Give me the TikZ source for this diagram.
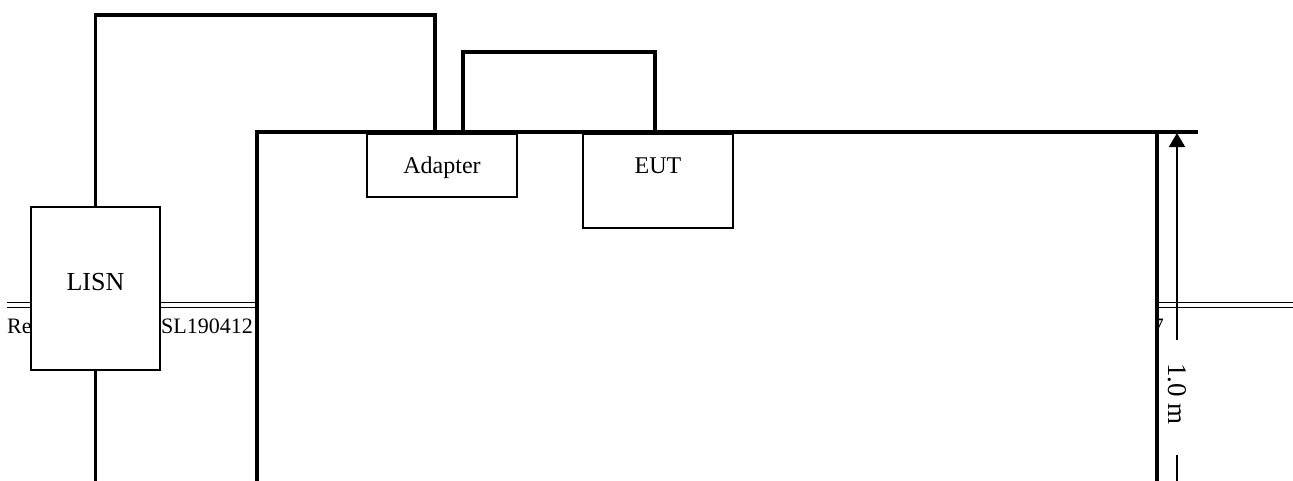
\documentclass[tikz,border=0pt]{standalone}
\usepackage{fontspec}
\setmainfont{Liberation Serif}
\usetikzlibrary{arrows.meta}
\tikzset{
  wire/.style={line width=3.6pt},
  boxstyle/.style={draw, line width=1.8pt, fill=white, minimum width=150pt, inner sep=0pt},
  hdr/.style={line width=1.7pt},
  lbl/.style={font=\fontsize{24}{28}\selectfont, inner sep=0pt},
  hdrtext/.style={font=\fontsize{22}{26}\selectfont, inner sep=0pt},
}
\begin{document}
\begin{tikzpicture}[x=1pt,y=-1pt]
\useasboundingbox (0,0) rectangle (1293,480);
\clip (0,0) rectangle (1293,480);
\fill[white] (0,0) rectangle (1293,480);
% header remnants
\draw[hdr] (7,302.5) -- (1293,302.5);
\draw[hdr] (7,307.5) -- (1293,307.5);
\node[hdrtext, anchor=base west] (hre) at (7,333) {Re};
\node[hdrtext, anchor=base east] (hnum) at (253,333) {SL190412};
\node[hdrtext, anchor=base east] (hpg) at (1164,333) {7};
% table
\fill[white] (257,132) rectangle (1157,490);
\draw[line width=3.2pt] (257,490) -- (257,132) -- (1198,132);
\draw[line width=3.2pt] (1157,132) -- (1157,490);
% boxes
\node[boxstyle, minimum height=63pt] (adapter) at (442,165.5) {};
\node[lbl] (adaptertext) at (442,168) {Adapter};
\node[boxstyle, minimum height=94pt] (eut) at (658,181) {};
\node[lbl] (euttext) at (658,166) {EUT};
\node[boxstyle, minimum width=129pt, minimum height=163pt] (lisn) at (95.5,288.5) {};
\node[lbl, font=\fontsize{26}{30}\selectfont] (lisntext) at (95.5,282) {LISN};
% wires
\coordinate (w1) at (435,15);
\coordinate (w2) at (463,52);
\coordinate (w3) at (655,52);
\coordinate (wb) at (95.5,490);
\draw[wire] (lisn.north) |- (w1) -- (w1 |- adapter.north);
\draw[wire] (w2 |- adapter.north) -- (w2) -- (w3) -- (w3 |- eut.north);
\draw[wire] (lisn.south) -- (wb);
% dimension
\coordinate (dtop) at (1177,133);
\coordinate (dlow) at (1177,340);
\coordinate (dlow2) at (1177,455);
\coordinate (dbot) at (1177,490);
\draw[line width=1.7pt, -{Triangle[width=16pt,length=14pt]}] (dlow) -- (dtop);
\draw[line width=1.7pt] (dlow2) -- (dbot);
\node[lbl, font=\fontsize{27}{30}\selectfont, rotate=-90] (dim) at (1177,394) {1.0 m};
\end{tikzpicture}
\end{document}
